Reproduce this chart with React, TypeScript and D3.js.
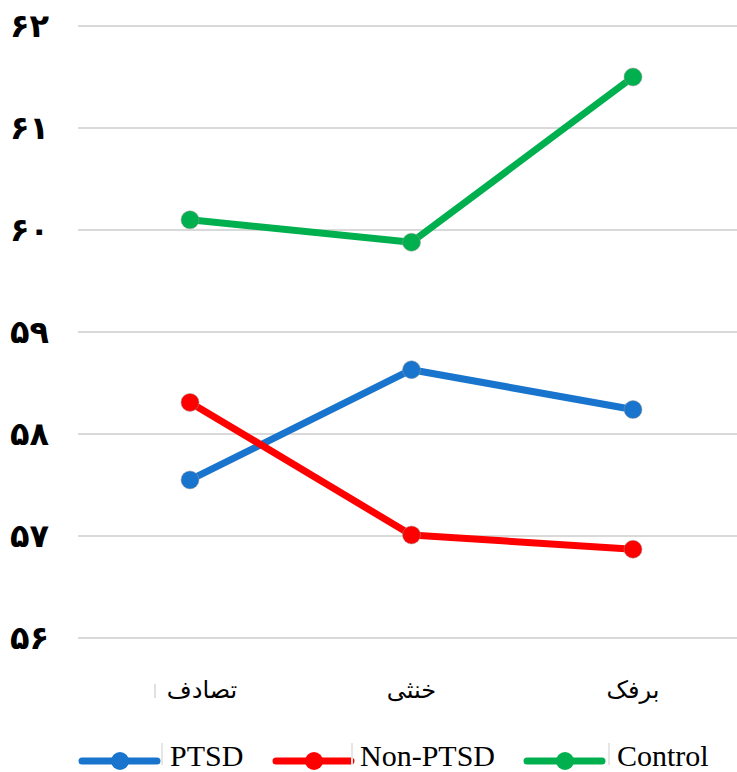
import React from "react";
import * as d3 from "d3";

const categories = ["تصادف", "خنثی", "برفک"];
const ptsd = [57.55, 58.63, 58.24];
const nonPtsd = [58.31, 57.01, 56.87];
const control = [60.1, 59.88, 61.5];
const yTicks = [56, 57, 58, 59, 60, 61, 62];
const yTickLabels = ["۵۶", "۵۷", "۵۸", "۵۹", "۶۰", "۶۱", "۶۲"];
const seriesNames = ["PTSD", "Non-PTSD", "Control"];
const seriesColors = ["#1874CD", "#FF0000", "#00B04F"];

const W = 737;
const H = 772;

const App = () => {
  const x = d3.scalePoint<string>().domain(categories).range([190, 633]);
  const y = d3.scaleLinear().domain([56, 62]).range([638, 26]);
  const line = d3
    .line<number>()
    .x((_, i) => x(categories[i]) as number)
    .y((d) => y(d));

  const series = [ptsd, nonPtsd, control];
  // legend item start x and text offset
  const legendX = [82, 276, 527];
  const legendTextDx = [88, 84, 90];

  return (
    <svg width={W} height={H} style={{ position: "absolute", left: 0, top: 0 }}>
      <rect width={W} height={H} fill="#fff" />
      {yTicks.map((t, i) => (
        <g key={t}>
          <line x1={78} x2={W} y1={y(t)} y2={y(t)} stroke="#d9d9d9" strokeWidth={2} />
          <text
            x={10}
            y={y(t) + 11}
            fontFamily="DejaVu Sans"
            fontWeight="bold"
            fontSize={32}
            fill="#000"
          >
            {yTickLabels[i]}
          </text>
        </g>
      ))}
      {categories.map((c, i) => (
        <text
          key={c}
          x={(x(c) as number) + (i === 0 ? 12 : 0)}
          y={698}
          textAnchor="middle"
          fontFamily="DejaVu Sans"
          fontSize={24}
          fill="#000"
        >
          {c}
        </text>
      ))}
      <rect x={(x(categories[0]) as number) - 36} y={684} width={2} height={14} fill="#e0e0e0" />
      {series.map((s, k) => (
        <g key={k}>
          <path d={line(s) || ""} fill="none" stroke={seriesColors[k]} strokeWidth={7} strokeLinejoin="round" />
          {s.map((v, i) => (
            <circle
              key={i}
              cx={x(categories[i])}
              cy={y(v)}
              r={9}
              fill={seriesColors[k]}
              stroke="#9a9a9a"
              strokeOpacity={0.5}
              strokeWidth={1}
            />
          ))}
        </g>
      ))}
      {seriesNames.map((n, k) => (
        <g key={n} transform={`translate(${legendX[k]},761)`}>
          <line x1={0} x2={75} y1={0} y2={0} stroke={seriesColors[k]} strokeWidth={7} strokeLinecap="round" />
          <circle cx={38} cy={0} r={9} fill={seriesColors[k]} />
          <rect x={legendTextDx[k] - 9} y={-18} width={2} height={22} fill="#e6e6e6" />
          <text x={legendTextDx[k]} y={5} fontFamily="Liberation Serif" fontSize={30} fill="#000">
            {n}
          </text>
        </g>
      ))}
    </svg>
  );
};

export default App;
